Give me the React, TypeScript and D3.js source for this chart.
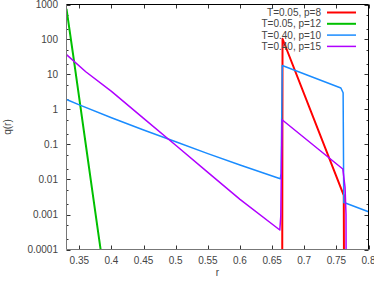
import { useEffect, useRef } from "react";
import * as d3 from "d3";

// T=0.05, p=8
const redR = [0.6655, 0.6662, 0.7615, 0.7625];
const redQ = [1e-8, 105, 0.0035, 1e-8];

// T=0.05, p=12
const greenR = [0.33, 0.34, 0.35, 0.36, 0.37, 0.38, 0.39];
const greenQ = [750, 40, 2.0, 0.1, 0.005, 0.00025, 0.000013];

// T=0.40, p=10
const blueR = [0.33, 0.35, 0.4, 0.45, 0.5, 0.55, 0.6, 0.6627, 0.664, 0.6658, 0.757, 0.7605, 0.7615, 0.765, 0.8];
const blueQ = [1.93, 1.36, 0.58, 0.26, 0.12, 0.055, 0.026, 0.0105, 0.015, 18, 4.1, 3.0, 0.0022, 0.0021, 0.0012];

// T=0.40, p=15
const purpleR = [0.33, 0.36, 0.4, 0.45, 0.5, 0.55, 0.6, 0.662, 0.6635, 0.6655, 0.76, 0.7635, 0.765, 0.7655];
const purpleQ = [37, 12, 3.3, 0.56, 0.095, 0.016, 0.0027, 0.00036, 0.0009, 0.51, 0.02, 0.006, 0.001, 1e-8];

const series = [
  { label: "T=0.05, p=8", r: redR, q: redQ, color: "#ff0000", width: 2 },
  { label: "T=0.05, p=12", r: greenR, q: greenQ, color: "#00c000", width: 2 },
  { label: "T=0.40, p=10", r: blueR, q: blueQ, color: "#1a8cff", width: 1.5 },
  { label: "T=0.40, p=15", r: purpleR, q: purpleQ, color: "#b000ff", width: 1.5 },
];

const xTicks = [0.35, 0.4, 0.45, 0.5, 0.55, 0.6, 0.65, 0.7, 0.75, 0.8];
const yTicks = [1000, 100, 10, 1, 0.1, 0.01, 0.001, 0.0001];
const yMinor = [500, 200, 50, 20, 5, 2, 0.5, 0.2, 0.05, 0.02, 0.005, 0.002, 0.0005, 0.0002];

const W = 374;
const H = 281;

export default function App() {
  const svgRef = useRef<SVGSVGElement>(null);

  useEffect(() => {
    if (!svgRef.current) return;
    const svg = d3.select(svgRef.current);
    svg.selectAll("*").remove();

    const left = 66.5;
    const right = 368.5;
    const top = 4.5;
    const bottom = 249.5;
    const font = "Liberation Sans, Arial, sans-serif";
    const textColor = "#444";

    const x = d3.scaleLinear().domain([0.33, 0.8]).range([left, right]);
    const y = d3.scaleLog().domain([0.0001, 1000]).range([bottom, top]);

    svg
      .append("defs")
      .append("clipPath")
      .attr("id", "plot-clip")
      .append("rect")
      .attr("x", left)
      .attr("y", top)
      .attr("width", right - left)
      .attr("height", bottom - top);

    // ticks (inward, mirrored)
    const ticks = svg.append("g").attr("stroke", "#333").attr("stroke-width", 1);
    xTicks.forEach((t) => {
      const px = Math.round(x(t)) + 0.5;
      ticks.append("line").attr("x1", px).attr("x2", px).attr("y1", bottom).attr("y2", bottom - 4);
      ticks.append("line").attr("x1", px).attr("x2", px).attr("y1", top).attr("y2", top + 4);
    });
    yTicks.forEach((t) => {
      const py = Math.round(y(t)) + 0.5;
      ticks.append("line").attr("x1", left).attr("x2", left + 4).attr("y1", py).attr("y2", py);
      ticks.append("line").attr("x1", right).attr("x2", right - 4).attr("y1", py).attr("y2", py);
    });
    yMinor.forEach((t) => {
      const py = Math.round(y(t)) + 0.5;
      ticks.append("line").attr("x1", left).attr("x2", left + 2).attr("y1", py).attr("y2", py);
      ticks.append("line").attr("x1", right).attr("x2", right - 2).attr("y1", py).attr("y2", py);
    });

    // tick labels
    svg
      .append("g")
      .selectAll("text")
      .data(xTicks)
      .join("text")
      .attr("x", (d) => x(d))
      .attr("y", 264)
      .attr("text-anchor", "middle")
      .attr("font-family", font)
      .attr("font-size", 10)
      .attr("fill", textColor)
      .text((d) => String(d));

    svg
      .append("g")
      .selectAll("text")
      .data(yTicks)
      .join("text")
      .attr("x", 58)
      .attr("y", (d) => y(d) + 3.5)
      .attr("text-anchor", "end")
      .attr("font-family", font)
      .attr("font-size", 10)
      .attr("fill", textColor)
      .text((d) => String(d));

    // axis titles
    svg
      .append("text")
      .attr("x", (left + right) / 2)
      .attr("y", 276)
      .attr("text-anchor", "middle")
      .attr("font-family", font)
      .attr("font-size", 10)
      .attr("fill", textColor)
      .text("r");

    svg
      .append("text")
      .attr("transform", `translate(11,${(top + bottom) / 2}) rotate(-90)`)
      .attr("text-anchor", "middle")
      .attr("font-family", font)
      .attr("font-size", 10)
      .attr("fill", textColor)
      .text("q(r)");

    // lines
    const line = d3
      .line<[number, number]>()
      .x((d) => x(d[0]))
      .y((d) => y(d[1]));

    const plot = svg.append("g").attr("clip-path", "url(#plot-clip)");
    series.forEach((s) => {
      const pts = s.r.map((r, i) => [r, s.q[i]] as [number, number]);
      plot
        .append("path")
        .datum(pts)
        .attr("fill", "none")
        .attr("stroke", s.color)
        .attr("stroke-width", s.width)
        .attr("stroke-linejoin", "round")
        .attr("d", line);
    });

    // frame
    svg.append("line").attr("x1", left).attr("x2", left).attr("y1", top).attr("y2", bottom).attr("stroke", "#777");
    svg.append("line").attr("x1", left).attr("x2", right).attr("y1", bottom).attr("y2", bottom).attr("stroke", "#777");
    svg.append("line").attr("x1", left).attr("x2", right).attr("y1", top).attr("y2", top).attr("stroke", "#000");
    svg.append("line").attr("x1", right).attr("x2", right).attr("y1", top).attr("y2", bottom).attr("stroke", "#000");

    // legend
    const legend = svg.append("g");
    series.forEach((s, i) => {
      const ly = 12.5 + i * 11.3;
      legend
        .append("text")
        .attr("x", 321)
        .attr("y", ly + 3.5)
        .attr("text-anchor", "end")
        .attr("font-family", font)
        .attr("font-size", 10)
        .attr("fill", textColor)
        .text(s.label);
      legend
        .append("line")
        .attr("x1", 327)
        .attr("x2", 356)
        .attr("y1", ly)
        .attr("y2", ly)
        .attr("stroke", s.color)
        .attr("stroke-width", s.width);
    });
  }, []);

  return (
    <svg
      ref={svgRef}
      width={W}
      height={H}
      style={{ position: "absolute", left: 0, top: 0, background: "#fff" }}
    />
  );
}
